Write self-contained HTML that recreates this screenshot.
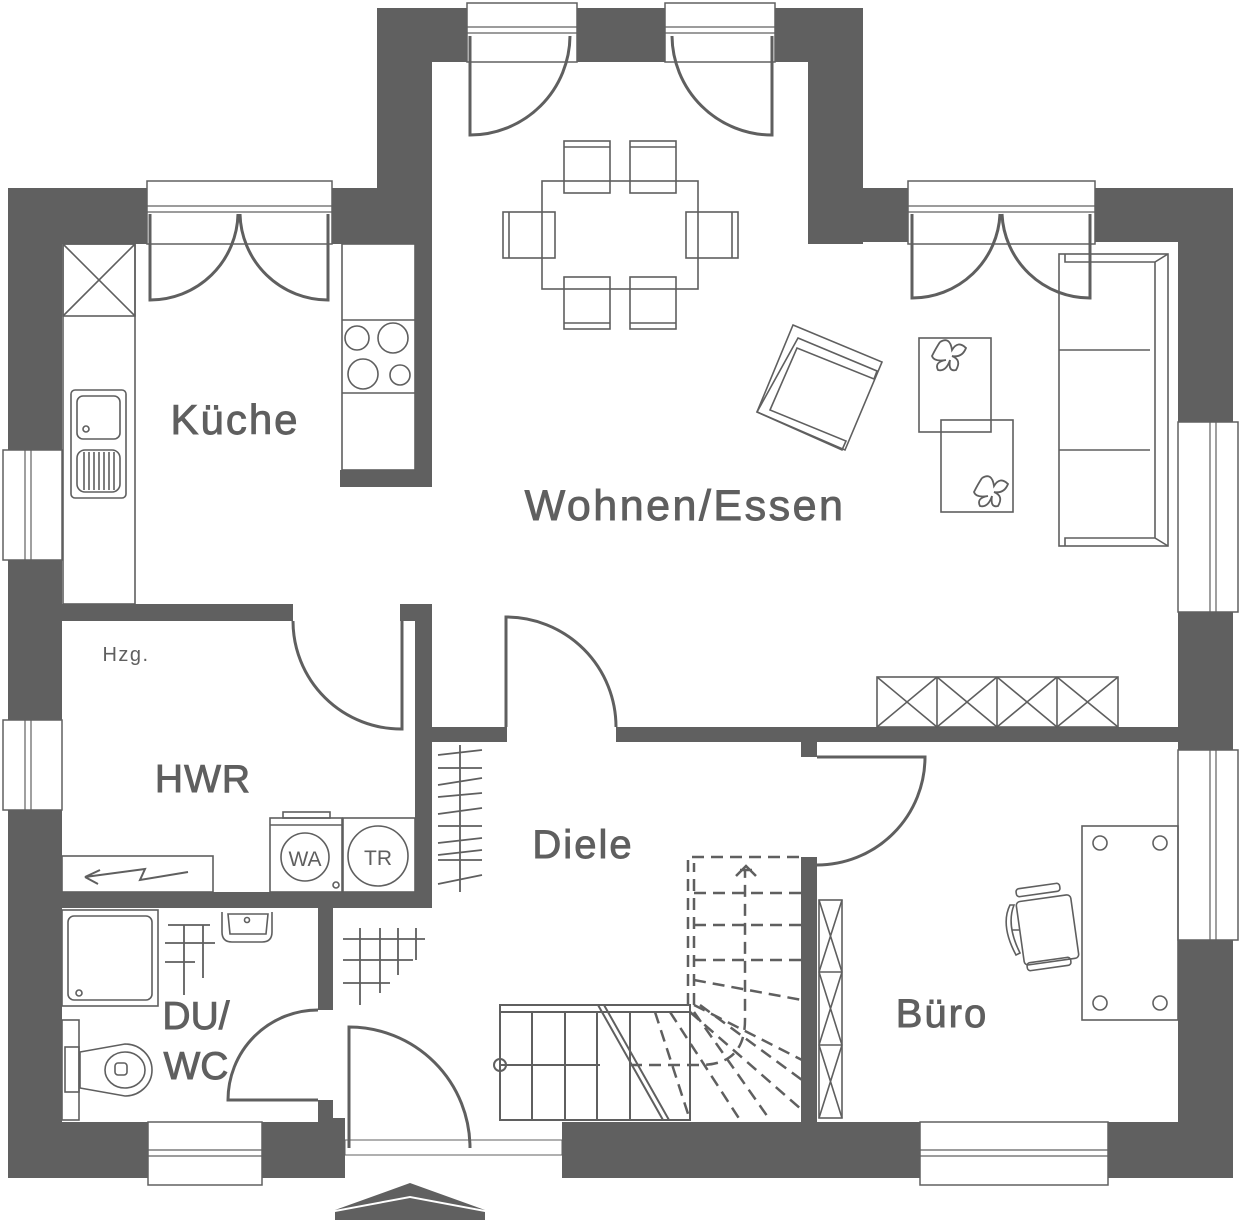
<!DOCTYPE html>
<html><head><meta charset="utf-8"><style>
html,body{margin:0;padding:0;background:#fff}
svg{display:block}
text{font-family:"Liberation Sans","DejaVu Sans",sans-serif;fill:#5f5f5f}
.lbl{stroke:#5f5f5f;stroke-width:0.9}
</style></head><body>
<svg width="1241" height="1222" viewBox="0 0 1241 1222" xmlns="http://www.w3.org/2000/svg">
<g fill="#606060">
<rect x="8" y="188" width="54" height="990"/>
<rect x="8" y="188" width="424" height="56"/>
<rect x="377" y="8" width="55" height="236"/>
<rect x="377" y="8" width="486" height="54"/>
<rect x="808" y="8" width="55" height="236"/>
<rect x="808" y="188" width="425" height="54"/>
<rect x="1178" y="188" width="55" height="990"/>
<rect x="8" y="1122" width="337" height="56"/>
<rect x="562" y="1122" width="671" height="56"/>
<rect x="62" y="604" width="231" height="17"/>
<rect x="400" y="604" width="32" height="17"/>
<rect x="415" y="604" width="17" height="304"/>
<rect x="340" y="470" width="92" height="17"/>
<rect x="415" y="244" width="17" height="243"/>
<rect x="62" y="892" width="370" height="16"/>
<rect x="432" y="727" width="75" height="15"/>
<rect x="616" y="727" width="562" height="15"/>
<rect x="801" y="742" width="16" height="15"/>
<rect x="801" y="857" width="16" height="265"/>
<rect x="318" y="908" width="15" height="102"/>
<rect x="318" y="1100" width="15" height="22"/>
<rect x="333" y="1118" width="12" height="4"/>
</g>
<g fill="#fff" stroke="#606060" stroke-width="1.5">
<rect x="467" y="3" width="110" height="59"/>
<rect x="665" y="3" width="110" height="59"/>
<rect x="147" y="181" width="185" height="63"/>
<rect x="908" y="181" width="187" height="63"/>
<rect x="3" y="450" width="59" height="110"/>
<rect x="3" y="720" width="59" height="90"/>
<rect x="1178" y="422" width="60" height="190"/>
<rect x="1178" y="750" width="60" height="190"/>
<rect x="148" y="1122" width="114" height="63"/>
<rect x="920" y="1122" width="188" height="63"/>
<rect x="345" y="1140" width="217" height="15" stroke-width="1"/>
</g>
<g stroke="#606060" stroke-width="1.2" fill="none">
<line x1="467" y1="27" x2="577" y2="27"/><line x1="467" y1="33" x2="577" y2="33"/>
<line x1="665" y1="27" x2="775" y2="27"/><line x1="665" y1="33" x2="775" y2="33"/>
<line x1="147" y1="206" x2="332" y2="206"/><line x1="147" y1="212" x2="332" y2="212"/>
<line x1="908" y1="206" x2="1095" y2="206"/><line x1="908" y1="212" x2="1095" y2="212"/>
<line x1="25" y1="450" x2="25" y2="560"/><line x1="31" y1="450" x2="31" y2="560"/>
<line x1="25" y1="720" x2="25" y2="810"/><line x1="31" y1="720" x2="31" y2="810"/>
<line x1="1210" y1="422" x2="1210" y2="612"/><line x1="1216" y1="422" x2="1216" y2="612"/>
<line x1="1210" y1="750" x2="1210" y2="940"/><line x1="1216" y1="750" x2="1216" y2="940"/>
<line x1="148" y1="1150" x2="262" y2="1150"/><line x1="148" y1="1156" x2="262" y2="1156"/>
<line x1="920" y1="1150" x2="1108" y2="1150"/><line x1="920" y1="1156" x2="1108" y2="1156"/>
</g>
<g stroke="#5f5f5f" stroke-width="3" fill="none">
<path d="M470 36 V135 A100 100 0 0 0 570 36"/>
<path d="M772 36 V135 A100 100 0 0 1 672 36"/>
<path d="M150 214 V300 A88 88 0 0 0 238 214"/>
<path d="M328 214 V300 A88 88 0 0 1 240 214"/>
<path d="M912 214 V298 A88 88 0 0 0 1000 214"/>
<path d="M1090 214 V298 A88 88 0 0 1 1002 214"/>
<path d="M293 621 A108 108 0 0 0 402 729 V621"/>
<path d="M506 727 V617 A110 110 0 0 1 616 727"/>
<path d="M817 757 H925 A108 108 0 0 1 817 865"/>
<path d="M318 1010 A90 90 0 0 0 228 1100 H318"/>
<path d="M349 1148 V1027 A121 121 0 0 1 470 1148"/>
</g>
<path d="M335 1210 L410 1183 L485 1210 L410 1196 Z M335 1212 L410 1198 L485 1212 L485 1220 L335 1220 Z" fill="#606060"/>
<g stroke="#5f5f5f" stroke-width="1.6" fill="none">
<rect x="63" y="244" width="72" height="360"/>
<rect x="63" y="244" width="72" height="72"/><line x1="63" y1="244" x2="135" y2="316"/><line x1="135" y1="244" x2="63" y2="316"/>
<rect x="71" y="390" width="55" height="108" rx="4"/>
<rect x="77" y="396" width="43" height="43" rx="6"/><circle cx="86" cy="429" r="3"/>
<rect x="77" y="450" width="43" height="42" rx="8"/>
<path d="M84 452 V490 M89 452 V490 M94 452 V490 M99 452 V490 M104 452 V490 M109 452 V490 M114 452 V490"/>
<rect x="342" y="244" width="73" height="226"/>
<line x1="342" y1="320" x2="415" y2="320"/><line x1="342" y1="393" x2="415" y2="393"/>
<circle cx="357" cy="338" r="12"/><circle cx="393" cy="338" r="15"/><circle cx="363" cy="374" r="15"/><circle cx="400" cy="375" r="10"/>
<rect x="542" y="181" width="156" height="108"/>
<rect x="564" y="141" width="46" height="52"/><line x1="564" y1="147" x2="610" y2="147"/>
<rect x="630" y="141" width="46" height="52"/><line x1="630" y1="147" x2="676" y2="147"/>
<rect x="564" y="277" width="46" height="52"/><line x1="564" y1="323" x2="610" y2="323"/>
<rect x="630" y="277" width="46" height="52"/><line x1="630" y1="323" x2="676" y2="323"/>
<rect x="503" y="212" width="52" height="46"/><line x1="509" y1="212" x2="509" y2="258"/>
<rect x="686" y="212" width="52" height="46"/><line x1="732" y1="212" x2="732" y2="258"/>
<polygon points="793,325 882,362 845,450 757,412"/>
<polygon points="798,338 877,371 874,379 797,348 770,410 846,441 842,450 757,412"/>
<rect x="919" y="338" width="72" height="94"/>
<rect x="941" y="420" width="72" height="92"/>
<rect x="1059" y="254" width="109" height="292"/>
<path d="M1065 254 V262 H1155 V538 H1065 V546 M1155 262 L1168 254 M1155 538 L1168 546"/>
<line x1="1059" y1="350" x2="1150" y2="350"/><line x1="1059" y1="450" x2="1150" y2="450"/>
<rect x="877" y="677" width="241" height="50"/>
<path d="M937 677 V727 M997 677 V727 M1057 677 V727"/>
<path d="M877 677 L937 727 M937 677 L877 727 M937 677 L997 727 M997 677 L937 727 M997 677 L1057 727 M1057 677 L997 727 M1057 677 L1118 727 M1118 677 L1057 727"/>
<rect x="62" y="856" width="151" height="36"/>
<path d="M188 872 L140 880 L145 869 L85 877 L100 870 M85 877 L98 884" stroke-width="2"/>
<rect x="270" y="818" width="72" height="74"/><rect x="283" y="812" width="47" height="6"/>
<line x1="270" y1="825" x2="342" y2="825"/>
<rect x="343" y="818" width="72" height="74"/>
<circle cx="305" cy="857" r="24"/><circle cx="378" cy="856" r="30"/><circle cx="336" cy="885" r="3"/>
<rect x="62" y="910" width="96" height="96"/>
<rect x="68" y="916" width="84" height="84" rx="6"/><circle cx="79" cy="993" r="3"/>
<path d="M222 912 V932 Q222 942 232 942 H262 Q272 942 272 932 V912"/>
<path d="M228 914 L230 934 H266 L268 914 Z"/><circle cx="247" cy="920" r="2.5"/>
<rect x="62" y="1020" width="17" height="100"/>
<rect x="65" y="1047" width="14" height="45"/>
<path d="M80 1052 L125 1044 A27 26 0 1 1 125 1096 L80 1088 Z"/>
<ellipse cx="125" cy="1070" rx="20" ry="18"/><rect x="115" y="1063" width="12" height="12" rx="3"/>
<path d="M168 925 H210 M165 943 H215 M165 962 H195 M184 925 V995 M203 925 V978" stroke-width="1.8"/>
<path d="M343 939 H425 M343 960 H413 M343 983 H390 M360 928 V1005 M380 928 V993 M398 928 V975 M416 928 V960" stroke-width="1.8"/>
<path d="M460 745 V892 M438 755 L482 750 M438 768 H482 M438 785 L482 778 M438 797 L482 793 M438 814 L482 808 M438 826 H482 M438 843 L482 838 M438 855 L482 850 M438 860 H482 M438 884 L482 875" stroke-width="1.8"/>
<rect x="500" y="1005" width="190" height="115" stroke-width="2"/>
<path d="M500 1012 H690 M532 1012 V1120 M565 1012 V1120 M597 1012 V1120 M630 1012 V1120 M500 1065 H600" stroke-width="2"/>
<circle cx="500" cy="1065" r="6" stroke-width="2"/>
<path d="M598 1005 L663 1120 M604 1005 L669 1120" stroke-width="2"/>
<g stroke-dasharray="12 7" stroke-width="2.5">
<path d="M688 1005 V857 H802 M694 1005 V863 M694 893 H802 M694 925 H802 M694 960 H802 M694 980 L802 1000 M694 1005 L802 1060 M690 1012 L802 1110 M670 1012 L740 1120 M655 1012 L690 1120 M630 1065 H700 Q745 1065 745 1020 V870"/>
<path d="M694 1012 L770 1120 M700 1005 L802 1080"/>
</g>
<path d="M736 876 L746 866 L756 876 M740 870 H752" stroke-width="2.5"/>
<rect x="819" y="900" width="23" height="218"/>
<path d="M819 972 H842 M819 1045 H842 M819 900 L842 972 M842 900 L819 972 M819 972 L842 1045 M842 972 L819 1045 M819 1045 L842 1118 M842 1045 L819 1118"/>
<rect x="1082" y="826" width="96" height="194"/>
<circle cx="1100" cy="843" r="7"/><circle cx="1160" cy="843" r="7"/><circle cx="1100" cy="1003" r="7"/><circle cx="1160" cy="1003" r="7"/>
<rect x="1020" y="898" width="55" height="64" rx="4" transform="rotate(-8 1047 930)"/>
<rect x="1016" y="886" width="44" height="8" rx="3" transform="rotate(-8 1038 890)"/>
<rect x="1027" y="960" width="44" height="8" rx="3" transform="rotate(-8 1049 964)"/>
<path d="M1010 905 Q1000 925 1016 955 L1020 953 Q1006 925 1014 905 Z M1012 930 H1020"/>
</g>
<g fill="none" stroke="#5f5f5f" stroke-width="1.8">
<path d="M940 342 q10 -6 12 8 q6 -10 14 -2 q-4 10 -14 8 q10 4 4 14 q-8 2 -6 -10 q-4 12 -12 10 q-4 -8 8 -10 q-12 2 -14 -4 q4 -8 8 -14"/>
<path d="M982 478 q10 -6 12 8 q6 -10 14 -2 q-4 10 -14 8 q10 4 4 14 q-8 2 -6 -10 q-4 12 -12 10 q-4 -8 8 -10 q-12 2 -14 -4 q4 -8 8 -14"/>
</g>
<text class="lbl" x="235" y="434" font-size="42" text-anchor="middle" letter-spacing="2">Küche</text>
<text class="lbl" x="685" y="520" font-size="43" text-anchor="middle" letter-spacing="2.5">Wohnen/Essen</text>
<text class="lbl" x="203" y="792" font-size="39" text-anchor="middle" letter-spacing="1">HWR</text>
<text class="lbl" x="583" y="858" font-size="40" text-anchor="middle" letter-spacing="2">Diele</text>
<text class="lbl" x="942" y="1027" font-size="40" text-anchor="middle" letter-spacing="2">Büro</text>
<text class="lbl" x="196" y="1029" font-size="39" text-anchor="middle">DU/</text>
<text class="lbl" x="196" y="1079" font-size="39" text-anchor="middle">WC</text>
<text x="126" y="661" font-size="20" text-anchor="middle" letter-spacing="1.5">Hzg.</text>
<text x="305" y="866" font-size="21" text-anchor="middle">WA</text>
<text x="378" y="865" font-size="21" text-anchor="middle">TR</text>
</svg>
</body></html>
